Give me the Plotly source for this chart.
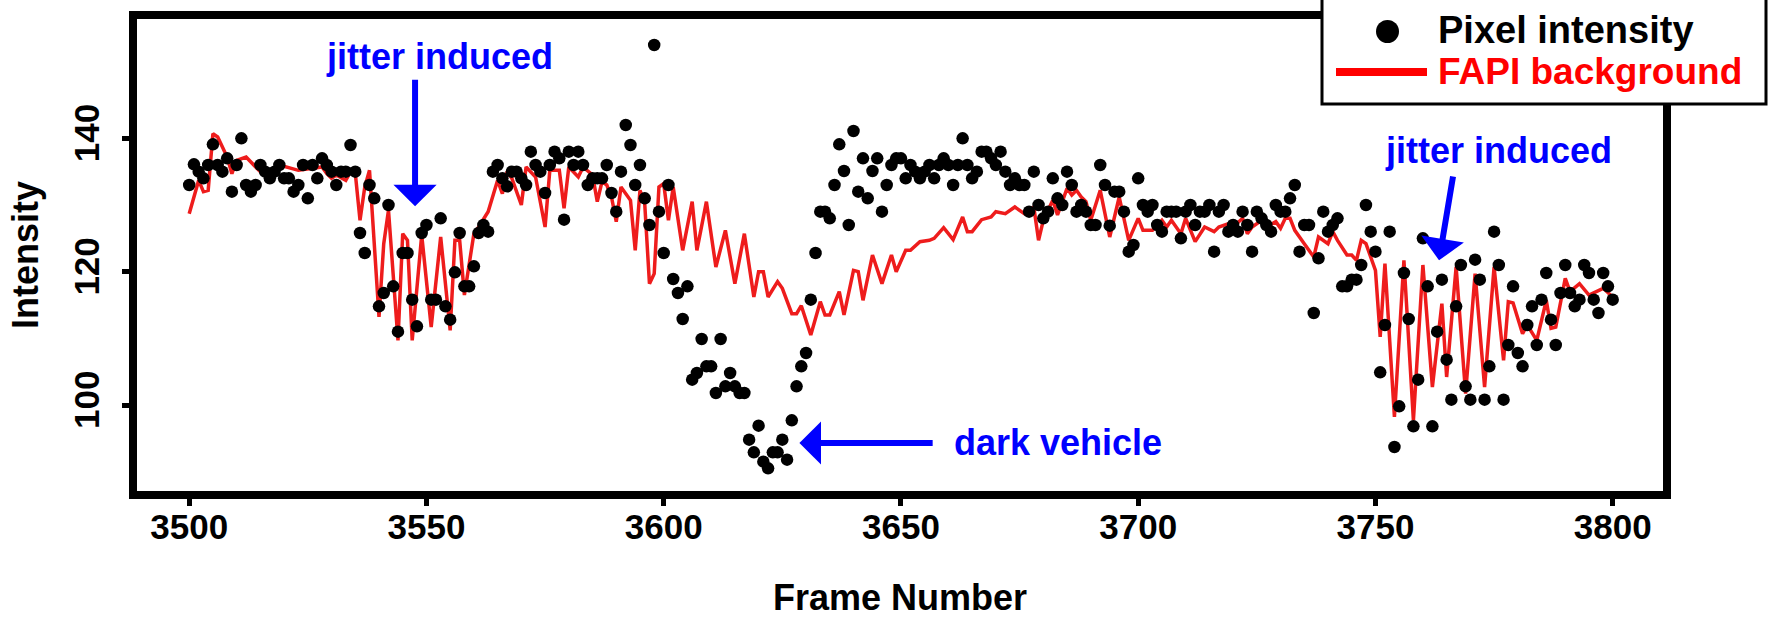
import plotly.graph_objects as go

# ---------------- data ----------------
dot_frames = list(range(3500, 3801))
dot_values = [
    133.0, 136.1, 135.0, 134.0, 136.0, 139.1, 136.0, 135.0, 137.0, 132.0,  # 3500-3509
    136.0, 140.0, 133.0, 132.0, 133.0, 136.0, 135.0, 134.0, 135.0, 136.0,  # 3510-3519
    134.0, 134.0, 132.0, 133.0, 136.0, 131.0, 136.0, 134.0, 137.0, 136.0,  # 3520-3529
    135.0, 133.0, 135.0, 135.0, 139.0, 135.0, 125.8, 122.8, 133.0, 131.0,  # 3530-3539
    114.8, 116.8, 130.0, 117.8, 111.0, 122.8, 122.8, 115.8, 111.8, 125.8,  # 3540-3549
    127.0, 115.8, 115.8, 128.0, 114.8, 112.8, 119.9, 125.8, 117.8, 117.8,  # 3550-3559
    120.8, 125.8, 127.0, 126.0, 135.0, 136.0, 134.0, 132.8, 135.0, 135.0,  # 3560-3569
    134.0, 133.0, 138.0, 136.0, 135.0, 131.8, 136.0, 138.0, 137.0, 127.8,  # 3570-3579
    138.0, 136.0, 138.0, 136.0, 133.0, 134.0, 134.0, 134.0, 136.0, 131.8,  # 3580-3589
    129.0, 135.0, 142.0, 139.0, 133.0, 136.0, 131.0, 127.0, 154.0, 129.0,  # 3590-3599
    122.8, 133.0, 118.9, 116.8, 112.9, 117.8, 103.8, 104.8, 109.9, 105.8,  # 3600-3609
    105.8, 101.8, 109.9, 102.8, 104.8, 102.8, 101.8, 101.8, 94.8, 92.9,    # 3610-3619
    96.9, 91.5, 90.5, 92.9, 92.9, 94.8, 91.8, 97.7, 102.8, 105.8,          # 3620-3629
    107.8, 115.8, 122.8, 129.0, 129.0, 128.0, 133.0, 139.1, 135.1, 127.0,  # 3630-3639
    141.1, 132.0, 137.0, 131.0, 135.1, 137.0, 129.0, 133.0, 136.0, 137.0,  # 3640-3649
    137.0, 134.0, 136.0, 135.0, 134.0, 135.0, 136.0, 134.0, 136.0, 137.0,  # 3650-3659
    136.0, 133.0, 136.0, 140.0, 136.0, 134.0, 135.0, 138.0, 138.0, 137.0,  # 3660-3669
    136.0, 138.0, 135.0, 133.0, 134.0, 133.0, 133.0, 129.0, 135.0, 130.0,  # 3670-3679
    128.0, 129.0, 134.0, 131.0, 130.0, 135.0, 133.0, 129.0, 130.0, 129.0,  # 3680-3689
    127.0, 127.0, 136.0, 133.0, 126.9, 132.0, 132.0, 129.0, 123.0, 124.0,  # 3690-3699
    134.0, 130.0, 129.0, 130.0, 127.0, 126.0, 129.0, 129.0, 129.0, 125.0,  # 3700-3709
    129.0, 130.0, 127.0, 129.0, 129.0, 130.0, 123.0, 129.0, 130.0, 126.0,  # 3710-3719
    127.0, 126.0, 129.0, 127.0, 123.0, 129.0, 128.0, 127.0, 126.0, 130.0,  # 3720-3729
    129.0, 129.0, 131.0, 133.0, 123.0, 127.0, 127.0, 113.8, 122.0, 129.0,  # 3730-3739
    126.0, 127.0, 128.0, 117.8, 117.8, 118.8, 118.8, 121.0, 130.0, 126.0,  # 3740-3749
    123.0, 104.9, 112.0, 126.0, 93.7, 99.8, 119.8, 112.9, 96.8, 103.8,     # 3750-3759
    125.0, 117.8, 96.8, 111.0, 118.8, 106.8, 100.8, 114.8, 121.0, 102.8,   # 3760-3769
    100.8, 121.8, 118.8, 100.8, 105.8, 126.0, 121.0, 100.8, 109.0, 117.8,  # 3770-3779
    107.8, 105.8, 112.0, 114.8, 109.0, 115.8, 119.8, 112.8, 109.0, 116.8,  # 3780-3789
    121.0, 116.8, 114.8, 115.8, 121.0, 119.8, 115.8, 113.8, 119.8, 117.8,  # 3790-3799
    115.8,                                                                 # 3800
]

red_frames = [
    3500, 3502, 3503, 3504, 3505, 3506, 3508, 3509, 3510, 3512, 3514, 3515, 3518, 3519,
    3523, 3526, 3528, 3529, 3530, 3531, 3533, 3534, 3535, 3536, 3537, 3538, 3540, 3541,
    3542, 3544, 3545, 3546, 3547, 3549, 3551, 3553, 3555, 3556, 3557, 3558, 3559, 3560,
    3561, 3563, 3565, 3566, 3567, 3568, 3570, 3571, 3573, 3575, 3576, 3578, 3579, 3580,
    3582, 3583, 3585, 3586, 3587, 3588, 3589, 3590, 3591, 3593, 3594, 3595, 3596, 3597,
    3598, 3599, 3600, 3601, 3602, 3604, 3606, 3607, 3609, 3611, 3613, 3615, 3617, 3619,
    3620, 3621, 3622, 3624, 3625, 3627, 3628, 3629, 3631, 3633, 3634, 3635, 3637, 3638,
    3640, 3641, 3642, 3644, 3646, 3648, 3649, 3651, 3652, 3654, 3656, 3657, 3659, 3661,
    3663, 3664, 3665, 3667, 3669, 3670, 3672, 3674, 3676, 3678, 3679, 3680, 3682, 3683,
    3685, 3686, 3687, 3688, 3689, 3690, 3692, 3694, 3696, 3698, 3700, 3701, 3703, 3705,
    3706, 3707, 3709, 3710, 3712, 3714, 3716, 3717, 3719, 3720, 3722, 3723, 3724, 3726,
    3727, 3729, 3730, 3731, 3732, 3733, 3735, 3737, 3738, 3740, 3741, 3742, 3744, 3745,
    3746, 3747, 3748, 3750, 3751, 3752, 3754, 3756, 3758, 3760, 3762, 3764, 3765, 3767,
    3769, 3771, 3773, 3775, 3777, 3778, 3779, 3781, 3782, 3784, 3786, 3787, 3788, 3790,
    3791, 3793, 3795, 3798, 3800,
]
red_values = [
    128.7, 133.7, 132.0, 132.2, 140.7, 140.2, 137.2, 134.7, 136.7, 137.2, 135.7, 135.0, 135.2, 136.0,
    135.2, 135.5, 135.7, 134.7, 134.0, 134.5, 133.7, 135.0, 134.8, 127.7, 132.7, 135.2, 113.2, 124.2,
    129.2, 109.7, 125.7, 124.7, 109.7, 125.5, 111.7, 125.2, 111.2, 124.7, 124.7, 116.5, 121.2, 125.7,
    126.7, 129.0, 133.7, 131.7, 135.0, 134.0, 130.0, 135.7, 134.2, 126.7, 135.2, 135.2, 129.5, 135.7,
    134.2, 135.7, 134.5, 130.5, 133.5, 133.0, 131.2, 127.5, 132.7, 130.7, 123.2, 132.2, 130.2, 118.2,
    119.7, 132.7, 133.2, 127.7, 132.7, 123.2, 130.5, 123.2, 130.5, 120.7, 126.2, 118.2, 125.7, 116.2,
    120.0, 120.0, 116.2, 118.5, 117.5, 113.7, 113.7, 114.9, 110.5, 115.5, 113.5, 113.5, 117.0, 113.5,
    120.2, 120.0, 115.7, 122.5, 118.2, 122.5, 120.0, 123.2, 123.2, 124.5, 124.7, 125.0, 126.6, 124.8,
    128.2, 126.0, 126.0, 127.8, 128.2, 129.0, 128.7, 129.7, 128.7, 129.7, 124.7, 127.7, 130.7, 128.5,
    132.5, 131.5, 132.2, 131.2, 130.5, 127.7, 132.2, 125.2, 131.2, 124.7, 128.0, 126.2, 126.2, 127.7,
    126.7, 127.7, 125.7, 128.0, 124.5, 126.7, 126.0, 126.7, 127.2, 126.7, 128.0, 125.7, 126.7, 127.7,
    126.7, 127.5, 126.5, 128.0, 128.0, 126.2, 124.2, 122.2, 125.2, 124.2, 126.0, 124.7, 122.5, 122.5,
    121.7, 124.7, 124.2, 120.2, 110.2, 121.2, 98.2, 121.7, 97.7, 121.0, 102.7, 115.2, 104.2, 120.7,
    101.7, 119.7, 102.7, 120.7, 106.7, 115.5, 115.3, 110.7, 112.0, 109.7, 115.7, 111.5, 111.7, 119.0,
    117.0, 118.2, 116.5, 117.5, 116.2,
]
assert len(dot_frames) == len(dot_values)
assert len(red_frames) == len(red_values)

x_ticks = [3500, 3550, 3600, 3650, 3700, 3750, 3800]
y_ticks = [100, 120, 140]
x_range = [3489.0, 3810.6]
y_range = [87.1, 157.9]

series_names = ["Pixel intensity", "FAPI background"]
notes = ["jitter induced", "jitter induced", "dark vehicle"]

# ---------------- styling / layout ----------------
W, H = 1768, 618
ML, MR, MT, MB = 137, 105, 19, 127
PW, PH = W - ML - MR, H - MT - MB
FONT = "Liberation Sans, Arial, Helvetica, sans-serif"
BLUE = "#0000ff"
RED = "#ff0000"


def px(p):
    return (p - ML) / PW


def py(p):
    return (H - MB - p) / PH


fig = go.Figure()
fig.add_trace(go.Scatter(
    x=red_frames, y=red_values, mode="lines", name=series_names[1],
    line=dict(color="#ee1c1c", width=3.5), showlegend=False,
))
fig.add_trace(go.Scatter(
    x=dot_frames, y=dot_values, mode="markers", name=series_names[0],
    marker=dict(color="black", size=12.5, line=dict(width=0)), showlegend=False,
))

annotations = []
# text notes
annotations.append(dict(x=3552.7, y=152.3, xref="x", yref="y", text=notes[0],
                        showarrow=False, xanchor="center", yanchor="middle",
                        font=dict(family=FONT, size=36, color=BLUE, weight="bold")))
annotations.append(dict(x=3775.9, y=138.2, xref="x", yref="y", text=notes[1],
                        showarrow=False, xanchor="center", yanchor="middle",
                        font=dict(family=FONT, size=36, color=BLUE, weight="bold")))
annotations.append(dict(x=3660.8, y=94.4, xref="x", yref="y", text=notes[2],
                        showarrow=False, xanchor="left", yanchor="middle",
                        font=dict(family=FONT, size=36, color=BLUE, weight="bold")))
# arrows
for (tx, ty, ax_, ay_) in [(3547.6, 129.8, 3547.6, 149.0),
                           (3763.4, 121.7, 3766.4, 134.5),
                           (3628.6, 94.3, 3657.0, 94.3)]:
    annotations.append(dict(x=tx, y=ty, ax=ax_, ay=ay_, xref="x", yref="y",
                            axref="x", ayref="y", text="", showarrow=True,
                            arrowhead=1, arrowsize=1.2, arrowwidth=6,
                            arrowcolor=BLUE, standoff=0))
# legend texts
annotations.append(dict(x=px(1436), y=py(30), xref="paper", yref="paper",
                        text=series_names[0], showarrow=False, xanchor="left",
                        yanchor="middle",
                        font=dict(family=FONT, size=38, color="black", weight="bold")))
annotations.append(dict(x=px(1436), y=py(71), xref="paper", yref="paper",
                        text=series_names[1], showarrow=False, xanchor="left",
                        yanchor="middle",
                        font=dict(family=FONT, size=37, color=RED, weight="bold")))

shapes = [
    dict(type="rect", xref="paper", yref="paper", x0=px(1322), x1=px(1766),
         y0=py(104), y1=py(-10), line=dict(color="black", width=3),
         fillcolor="white", layer="above"),
    dict(type="circle", xref="paper", yref="paper", x0=px(1376), x1=px(1399),
         y0=py(43), y1=py(20), line=dict(width=0), fillcolor="black",
         layer="above"),
    dict(type="line", xref="paper", yref="paper", x0=px(1336), x1=px(1427),
         y0=py(72), y1=py(72), line=dict(color=RED, width=8), layer="above"),
]

axis_common = dict(
    showline=True, linecolor="black", linewidth=8, mirror=True,
    ticks="outside", ticklen=7, tickwidth=5, tickcolor="black",
    showgrid=False, zeroline=False, automargin=False,
    tickfont=dict(family=FONT, size=35, color="black", weight="bold"),
)

fig.update_layout(
    width=W, height=H,
    margin=dict(l=ML, r=MR, t=MT, b=MB, pad=0),
    paper_bgcolor="white", plot_bgcolor="white",
    showlegend=False,
    xaxis=dict(range=x_range, tickvals=x_ticks, ticktext=[str(v) for v in x_ticks],
               title=dict(text="Frame Number", standoff=53,
                          font=dict(family=FONT, size=36, color="black", weight="bold")),
               ticklabelstandoff=-9, **axis_common),
    yaxis=dict(range=y_range, tickvals=y_ticks, ticktext=[str(v) for v in y_ticks],
               tickangle=-90,
               title=dict(text="Intensity", standoff=20,
                          font=dict(family=FONT, size=36, color="black", weight="bold")),
               ticklabelstandoff=9, **axis_common),
    annotations=annotations,
    shapes=shapes,
)

fig.write_html(
    "out.html",
    config={"displayModeBar": False},
    post_script="document.body.style.margin='0';document.body.style.overflow='hidden';",
)
